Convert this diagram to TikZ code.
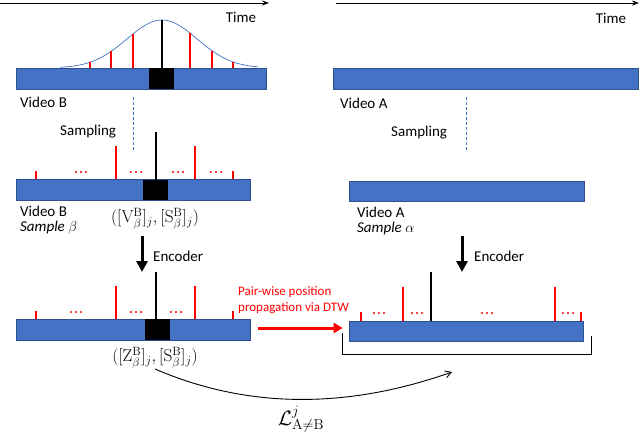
\documentclass[tikz,border=0pt]{standalone}
\usepackage[no-math]{fontspec}
\setmainfont{Carlito}
\usetikzlibrary{arrows.meta}
\definecolor{barblue}{HTML}{4472C4}
\definecolor{bardark}{HTML}{2F528F}
\definecolor{myred}{HTML}{FF0000}
\begin{document}
\begin{tikzpicture}[x=1pt,y=-1pt,
  bar/.style={draw=bardark,line width=0.6pt,fill=barblue,inner sep=0pt,minimum height=21pt},
  blk/.style={fill=black},
  redtick/.style={draw=myred,line width=1.6pt},
  blkline/.style={draw=black,line width=1.8pt},
  lbl/.style={font=\fontsize{15}{18}\selectfont,inner sep=0pt},
  twolbl/.style={font=\fontsize{15}{15}\selectfont,inner sep=0pt,align=left,anchor=west},
  mlbl/.style={font=\fontsize{17.5}{20}\selectfont,inner sep=0pt},
  encarrow/.style={draw=black,line width=3pt,-{Triangle[width=11pt,length=11pt]}},
  timearrow/.style={draw=black,line width=0.9pt,-{Stealth[length=7pt,width=5pt]}},
  dashln/.style={draw=barblue,line width=0.7pt,dash pattern=on 2.5pt off 2.5pt}]
\useasboundingbox (0,0) rectangle (640,437);

% ---------- time axes ----------
\coordinate (t1s) at (0,3); \coordinate (t1e) at (269,3);
\draw[timearrow] (t1s) -- (t1e);
\node[lbl] (time1) at (241,17) {Time};
\coordinate (t2s) at (336,3); \coordinate (t2e) at (639,3);
\draw[timearrow] (t2s) -- (t2e);
\node[lbl] (time2) at (611,18) {Time};

% ---------- row 1 ----------
\node[bar,minimum width=250pt] (vb1) at (141,78.5) {};
\fill[blk] (149,68) rectangle (174,89);
\draw[barblue,line width=0.7pt] plot[domain=60:258,samples=120] (\x,{68-48*exp(-((\x-162)^2)/2450)});
\foreach \xx in {90,111,133,190,212,233}{
  \draw[redtick] (\xx,68) -- (\xx,{68-48*exp(-((\xx-162)^2)/2450)});
}
\draw[blkline] (162,68) -- (162,20);
\node[lbl,anchor=west] (vbt1) at (20,102) {Video B};

\node[bar,minimum width=305pt] (va1) at (485.5,78.5) {};
\node[lbl,anchor=west] (vat1) at (340,103) {Video A};

% sampling
\coordinate (d1s) at (133,97); \coordinate (d1e) at (133,151);
\draw[dashln] (d1s) -- (d1e);
\node[lbl,anchor=west] (samp1) at (60,132) {Sampling};
\coordinate (d2s) at (466,97); \coordinate (d2e) at (466,150);
\draw[dashln] (d2s) -- (d2e);
\node[lbl,anchor=west] (samp2) at (391,133) {Sampling};

% ---------- row 2 ----------
\node[bar,minimum width=234pt] (vb2) at (133,190) {};
\fill[blk] (143,180) rectangle (168,200);
\draw[redtick] (36,179) -- (36,171);
\draw[redtick] (116,179) -- (116,146);
\draw[redtick] (195,179) -- (195,146);
\draw[redtick] (233,179) -- (233,171);
\draw[blkline] (156,180) -- (156,132);
\foreach \xx in {81,136,178,216}{
  \fill[myred] (\xx-5,172) circle (1.1) (\xx,172) circle (1.1) (\xx+5,172) circle (1.1);
}
\node[twolbl] (vbt2) at (20,220.5) {Video B\\\itshape Sample $\beta$};
\node[mlbl] (vs) at (155,219) {$\bigl([\mathrm{V}^{\mathrm{B}}_{\beta}]_j,[\mathrm{S}^{\mathrm{B}}_{\beta}]_j\bigr)$};

\node[bar,minimum width=235pt,minimum height=20pt] (va2) at (466.5,191) {};
\node[twolbl] (vat2) at (357,221) {Video A\\\itshape Sample $\alpha$};

% encoders
\coordinate (e1s) at (142,236); \coordinate (e1e) at (142,272);
\draw[encarrow] (e1s) -- (e1e);
\node[lbl,anchor=west] (enc1) at (153,256) {Encoder};
\coordinate (e2s) at (462,236); \coordinate (e2e) at (462,272);
\draw[encarrow] (e2s) -- (e2e);
\node[lbl,anchor=west] (enc2) at (474,256) {Encoder};

% ---------- row 3 ----------
\node[bar,minimum width=234pt] (vb3) at (133,329.5) {};
\fill[blk] (145,319) rectangle (170,340);
\draw[redtick] (36,319) -- (36,311);
\draw[redtick] (116,319) -- (116,286);
\draw[redtick] (195,319) -- (195,286);
\draw[redtick] (233,319) -- (233,311);
\draw[blkline] (156,319) -- (156,272);
\foreach \xx in {76,136,176}{
  \fill[myred] (\xx-5,312) circle (1.1) (\xx,312) circle (1.1) (\xx+5,312) circle (1.1);
}
\node[mlbl] (zs) at (155,358) {$\bigl([\mathrm{Z}^{\mathrm{B}}_{\beta}]_j,[\mathrm{S}^{\mathrm{B}}_{\beta}]_j\bigr)$};

\node[bar,minimum width=234pt,minimum height=20pt] (va3) at (466,331) {};
\draw[redtick] (361,321) -- (361,312);
\draw[redtick] (403,321) -- (403,287);
\draw[redtick] (555,321) -- (555,287);
\draw[redtick] (581,321) -- (581,312);
\draw[blkline] (431,321) -- (431,272);
\foreach \xx in {379,417,487,568}{
  \fill[myred] (\xx-5,313) circle (1.1) (\xx,313) circle (1.1) (\xx+5,313) circle (1.1);
}

% DTW propagation
\node[font=\fontsize{13}{15.5}\selectfont,text=myred,anchor=west,inner sep=0pt,align=left] (dtw) at (238,300) {Pair-wise position\\propagation via DTW};
\coordinate (rs) at (258,328);
\draw[myred,line width=3pt,-{Triangle[width=10pt,length=9pt]}] (rs) -- ([xshift=-6pt]va3.west |- rs);

% bracket
\coordinate (bl) at (342,333); \coordinate (br) at (591,336);
\draw[black,line width=0.9pt] (bl) -- (342,354) -- (591,354) -- (br);

% loss arrow
\coordinate (ls) at (155,369); \coordinate (le) at (452,372);
\draw[black,line width=0.9pt,-{Straight Barb[length=6pt,width=7pt]}] (ls) .. controls (250,410) and (350,408) .. (le);
\node[font=\fontsize{21}{24}\selectfont,inner sep=0pt] (loss) at (301,419) {$\mathcal{L}^{j}_{\mathrm{A}\neq\mathrm{B}}$};
\end{tikzpicture}
\end{document}
